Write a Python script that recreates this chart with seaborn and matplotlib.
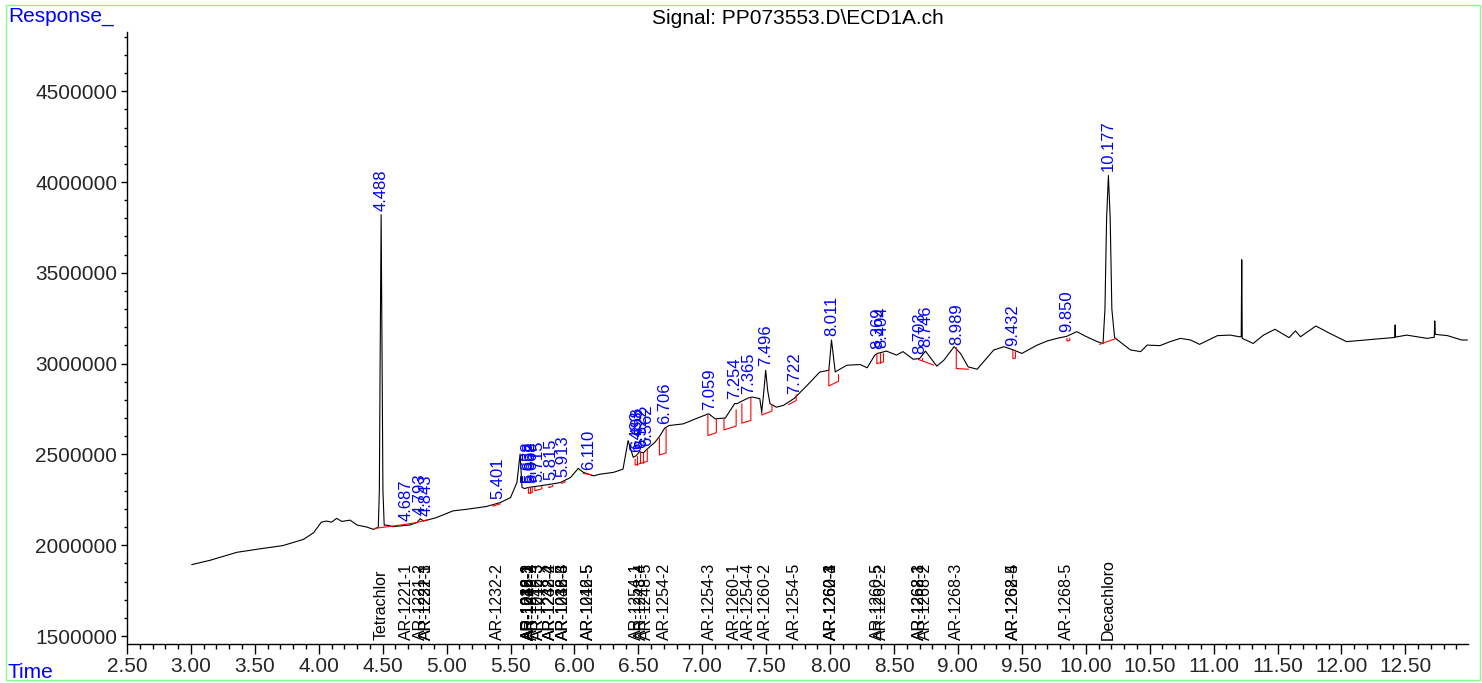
import numpy as np
import pandas as pd
import matplotlib
matplotlib.use("Agg")
import matplotlib.pyplot as plt
import matplotlib.ticker as mticker
from matplotlib.patches import Rectangle
import seaborn as sns

sns.set_theme(style="white")
plt.rcParams['font.family'] = ['Liberation Sans', 'DejaVu Sans']

# trace (time in min, response in thousands)
trace_time = [3.006, 3.15, 3.36, 3.54, 3.72, 3.88, 3.96, 4.02, 4.06, 4.10, 4.14, 4.18, 4.245,
              4.30, 4.375, 4.43, 4.466, 4.474, 4.480, 4.488, 4.496, 4.502, 4.512, 4.53, 4.58,
              4.62, 4.71, 4.77, 4.793, 4.82, 4.92, 5.05, 5.16, 5.31, 5.42, 5.50, 5.55, 5.575,
              5.59, 5.61, 5.638, 5.73, 5.815, 5.89, 5.97, 6.03, 6.07, 6.15, 6.20, 6.305, 6.38,
              6.42, 6.46, 6.483, 6.51, 6.54, 6.562, 6.63, 6.67, 6.706, 6.74, 6.85, 6.98, 7.05,
              7.10, 7.18, 7.254, 7.27, 7.32, 7.365, 7.39, 7.45, 7.465, 7.482, 7.496, 7.512,
              7.53, 7.58, 7.635, 7.722, 7.73, 7.82, 7.92, 7.99, 8.011, 8.04, 8.13, 8.235, 8.29,
              8.35, 8.37, 8.404, 8.44, 8.52, 8.57, 8.65, 8.70, 8.746, 8.835, 8.89, 8.97, 9.02,
              9.08, 9.15, 9.20, 9.28, 9.36, 9.435, 9.50, 9.62, 9.70, 9.78, 9.85, 9.93, 10.00,
              10.09, 10.135, 10.150, 10.163, 10.177, 10.191, 10.204, 10.225, 10.24, 10.35,
              10.43, 10.48, 10.58, 10.66, 10.74, 10.82, 10.89, 11.03, 11.13, 11.20, 11.216,
              11.220, 11.224, 11.31, 11.39, 11.48, 11.59, 11.64, 11.68, 11.80, 11.91, 12.04,
              12.25, 12.41, 12.416, 12.42, 12.424, 12.51, 12.67, 12.726, 12.73, 12.734, 12.83,
              12.94, 12.985]
trace_resp = [1893, 1917, 1961, 1980, 1998, 2032, 2069, 2127, 2133, 2127, 2148, 2131, 2138,
              2111, 2100, 2087, 2100, 2300, 3000, 3820, 3000, 2300, 2110, 2111, 2102,
              2105, 2111, 2125, 2146, 2133, 2152, 2189, 2198, 2213, 2235, 2262, 2345, 2502,
              2318, 2312, 2318, 2327, 2336, 2345, 2373, 2423, 2401, 2382, 2391, 2401, 2419,
              2576, 2484, 2493, 2515, 2508, 2525, 2567, 2604, 2645, 2659, 2668, 2705, 2724,
              2696, 2700, 2780, 2779, 2797, 2812, 2816, 2807, 2733, 2850, 2963, 2850,
              2779, 2760, 2770, 2810, 2816, 2880, 2954, 2963, 3130, 2954, 2991, 2995, 2977,
              3047, 3056, 3062, 3069, 3047, 3066, 3024, 3028, 3069, 2986, 3019, 3093, 3056,
              2982, 2969, 3010, 3075, 3093, 3075, 3056, 3102, 3125, 3140, 3150, 3176, 3150,
              3121, 3110, 3300, 3800, 4036, 3800, 3300, 3145, 3135, 3075,
              3066, 3102, 3099, 3121, 3139, 3130, 3106, 3154, 3157, 3148, 3148,
              3572, 3139, 3111, 3157, 3189, 3143, 3180, 3148, 3207, 3166, 3121,
              3134, 3144, 3144, 3213, 3146, 3157, 3139, 3145, 3235, 3161, 3154,
              3130, 3130]

# integrated peak retention times (blue labels)
peak_times = [4.488, 4.687, 4.793, 4.843, 5.401, 5.638, 5.652, 5.668, 5.715, 5.815, 5.913,
              6.110, 6.483, 6.498, 6.522, 6.562, 6.706, 7.059, 7.254, 7.365, 7.496, 7.722,
              8.011, 8.369, 8.404, 8.703, 8.746, 8.989, 9.432, 9.850, 10.177]

# compound names on the time axis
compound_names = ['Tetrachlor', 'AR-1221-1', 'AR-1221-2', 'AR-1221-3', 'AR-1232-1', 'AR-1232-2',
                  'AR-1016-1', 'AR-1242-1', 'AR-1232-3', 'AR-1016-2', 'AR-1248-1', 'AR-1242-2',
                  'AR-1016-3', 'AR-1242-3', 'AR-1232-4', 'AR-1248-2', 'AR-1242-4', 'AR-1232-5',
                  'AR-1248-3', 'AR-1016-4', 'AR-1016-5', 'AR-1242-5', 'AR-1254-1', 'AR-1248-4',
                  'AR-1248-5', 'AR-1254-2', 'AR-1254-3', 'AR-1260-1', 'AR-1254-4', 'AR-1260-2',
                  'AR-1254-5', 'AR-1260-3', 'AR-1260-4', 'AR-1262-1', 'AR-1260-5', 'AR-1262-2',
                  'AR-1262-3', 'AR-1268-1', 'AR-1268-2', 'AR-1268-3', 'AR-1262-5', 'AR-1268-4',
                  'AR-1268-5', 'Decachloro']
compound_times = [4.488, 4.687, 4.793, 4.843, 4.843, 5.401,
                  5.638, 5.638, 5.638, 5.652, 5.652, 5.668,
                  5.715, 5.715, 5.815, 5.815, 5.815, 5.913,
                  5.913, 5.913, 6.110, 6.110, 6.483, 6.522,
                  6.562, 6.706, 7.059, 7.254, 7.365, 7.496,
                  7.722, 8.011, 8.011, 8.011, 8.369, 8.404,
                  8.703, 8.703, 8.746, 8.989, 9.432, 9.432,
                  9.850, 10.177]

# integration baselines / drop lines (red), time and response in thousands
baseline_times = [[4.44, 4.64, 4.76, 4.857], [5.36, 5.42],
                  [5.64, 5.64, 5.67, 5.67], [5.655, 5.655],
                  [5.69, 5.69, 5.745, 5.745], [5.80, 5.80, 5.83, 5.83], [5.90, 5.93],
                  [6.07, 6.135],
                  [6.475, 6.475, 6.57, 6.57], [6.49, 6.49], [6.514, 6.514], [6.54, 6.54],
                  [6.665, 6.665, 6.717, 6.717], [7.044, 7.044, 7.11, 7.11],
                  [7.17, 7.17, 7.265, 7.265], [7.31, 7.31, 7.38, 7.38],
                  [7.466, 7.466, 7.545, 7.545], [7.675, 7.735, 7.735],
                  [7.99, 7.99, 8.066, 8.066], [8.366, 8.366, 8.418, 8.418], [8.39, 8.39],
                  [8.69, 8.81], [8.72, 8.72], [8.987, 8.987, 9.083],
                  [9.43, 9.43, 9.45, 9.45], [9.853, 9.853, 9.875, 9.875], [10.108, 10.24]]
baseline_resp = [[2093, 2111, 2124, 2141], [2215, 2228],
                 [2318, 2286, 2290, 2318], [2318, 2288],
                 [2318, 2300, 2310, 2325], [2322, 2318, 2324, 2330], [2340, 2350],
                 [2395, 2388],
                 [2474, 2441, 2462, 2525], [2490, 2444], [2515, 2450], [2508, 2455],
                 [2589, 2497, 2508, 2645], [2715, 2604, 2619, 2693],
                 [2700, 2635, 2656, 2746], [2779, 2672, 2687, 2811],
                 [2733, 2717, 2739, 2774], [2774, 2797, 2829],
                 [2968, 2877, 2903, 2940], [3056, 3000, 3010, 3056], [3060, 3005],
                 [3023, 2992], [3030, 3018], [3088, 2973, 2969],
                 [3075, 3028, 3030, 3066], [3139, 3124, 3128, 3140], [3106, 3139]]

df = pd.DataFrame({'Time': trace_time, 'Response': np.array(trace_resp) * 1000})

fig = plt.figure(figsize=(14.82, 6.83), dpi=100)
ax = fig.add_axes([127 / 1482, 1 - 644 / 683, (1468 - 127) / 1482, (644 - 32) / 683])

sns.lineplot(data=df, x='Time', y='Response', ax=ax, color='black', lw=0.8,
             estimator=None, sort=False)

for bt, br in zip(baseline_times, baseline_resp):
    ax.plot(bt, np.array(br) * 1000, color='red', lw=0.8)

for t in peak_times:
    yv = np.interp(t, df['Time'], df['Response'])
    ax.annotate(f"{t:.3f}", (t, yv), xytext=(0, 3), textcoords='offset points',
                rotation=90, ha='center', va='bottom', color='blue', fontsize=12)

for name, t in zip(compound_names, compound_times):
    ax.text(t, 0.006, name, transform=ax.get_xaxis_transform(), rotation=90,
            ha='center', va='bottom', color='black', fontsize=11.5)

ax.set_xlim(2.5, 12.99)
ax.set_ylim(1456000, 4826000)
ax.xaxis.set_major_locator(mticker.MultipleLocator(0.5))
ax.xaxis.set_minor_locator(mticker.MultipleLocator(0.1))
ax.xaxis.set_major_formatter(mticker.FormatStrFormatter('%.2f'))
ax.yaxis.set_major_locator(mticker.MultipleLocator(500000))
ax.yaxis.set_minor_locator(mticker.MultipleLocator(100000))
ax.yaxis.set_major_formatter(mticker.FuncFormatter(lambda v, p: f"{int(v)}"))
ax.tick_params(axis='x', which='major', direction='out', length=7, width=1, pad=2,
               labelsize=15, color='black', bottom=True)
ax.tick_params(axis='x', which='minor', direction='out', length=3.5, width=1,
               color='black', bottom=True)
ax.tick_params(axis='y', which='major', direction='out', length=4, width=1, pad=3,
               labelsize=15, color='black', left=True)
ax.tick_params(axis='y', which='minor', direction='out', length=2.5, width=1,
               color='black', left=True)
ax.set_xlabel('')
ax.set_ylabel('')
for s in ['top', 'right']:
    ax.spines[s].set_visible(False)
for s in ['left', 'bottom']:
    ax.spines[s].set_color('black')
    ax.spines[s].set_linewidth(1)

fig.text(797.5 / 1482, 1 - 18 / 683, 'Signal: PP073553.D\\ECD1A.ch', ha='center', va='center',
         fontsize=15, color='black')
fig.text(8 / 1482, 1 - 17 / 683, 'Response_', ha='left', va='center', fontsize=15, color='blue')
fig.text(8 / 1482, 1 - 672 / 683, 'Time', ha='left', va='center', fontsize=15, color='blue')

fig.patches.append(Rectangle((6 / 1482, 3 / 683), (1480 - 6) / 1482, (679 - 4) / 683,
                             transform=fig.transFigure, fill=False, edgecolor='#80ff80', lw=1))

fig.savefig('out.png', dpi=100)
